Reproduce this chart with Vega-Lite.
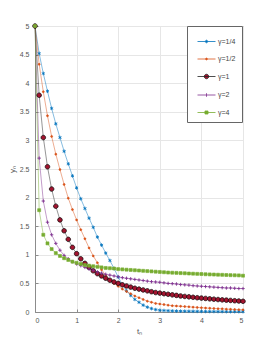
{
"$schema": "https://vega.github.io/schema/vega-lite/v6.json",
"width": 208, "height": 286,
"autosize": {"type": "none"},
"padding": {"left": 35, "top": 26, "right": 26, "bottom": 39},
"config": {"font": "Liberation Sans", "view": {"stroke": "#8c8c8c", "strokeWidth": 1}},
"datasets": {"d": [
{"t":0,"y":5,"g":"γ=1/4"},{"t":0.1,"y":4.52,"g":"γ=1/4"},{"t":0.2,"y":4.17,"g":"γ=1/4"},{"t":0.3,"y":3.86,"g":"γ=1/4"},{"t":0.4,"y":3.56,"g":"γ=1/4"},{"t":0.5,"y":3.29,"g":"γ=1/4"},{"t":0.6,"y":3.05,"g":"γ=1/4"},{"t":0.7,"y":2.81,"g":"γ=1/4"},{"t":0.8,"y":2.59,"g":"γ=1/4"},{"t":0.9,"y":2.38,"g":"γ=1/4"},{"t":1.0,"y":2.17,"g":"γ=1/4"},{"t":1.1,"y":1.98,"g":"γ=1/4"},{"t":1.2,"y":1.81,"g":"γ=1/4"},{"t":1.3,"y":1.64,"g":"γ=1/4"},{"t":1.4,"y":1.48,"g":"γ=1/4"},{"t":1.5,"y":1.31,"g":"γ=1/4"},{"t":1.6,"y":1.17,"g":"γ=1/4"},{"t":1.7,"y":1.03,"g":"γ=1/4"},{"t":1.8,"y":0.90,"g":"γ=1/4"},{"t":1.9,"y":0.76,"g":"γ=1/4"},{"t":2.0,"y":0.61,"g":"γ=1/4"},{"t":2.1,"y":0.48,"g":"γ=1/4"},{"t":2.2,"y":0.37,"g":"γ=1/4"},{"t":2.3,"y":0.29,"g":"γ=1/4"},{"t":2.4,"y":0.22,"g":"γ=1/4"},{"t":2.5,"y":0.17,"g":"γ=1/4"},{"t":2.6,"y":0.12,"g":"γ=1/4"},{"t":2.7,"y":0.085,"g":"γ=1/4"},{"t":2.8,"y":0.06,"g":"γ=1/4"},{"t":2.9,"y":0.042,"g":"γ=1/4"},{"t":3.0,"y":0.03,"g":"γ=1/4"},{"t":3.1,"y":0.026,"g":"γ=1/4"},{"t":3.2,"y":0.022,"g":"γ=1/4"},{"t":3.3,"y":0.019,"g":"γ=1/4"},{"t":3.4,"y":0.017,"g":"γ=1/4"},{"t":3.5,"y":0.015,"g":"γ=1/4"},{"t":3.6,"y":0.014,"g":"γ=1/4"},{"t":3.7,"y":0.013,"g":"γ=1/4"},{"t":3.8,"y":0.012,"g":"γ=1/4"},{"t":3.9,"y":0.011,"g":"γ=1/4"},{"t":4.0,"y":0.010,"g":"γ=1/4"},{"t":4.1,"y":0.0095,"g":"γ=1/4"},{"t":4.2,"y":0.009,"g":"γ=1/4"},{"t":4.3,"y":0.0085,"g":"γ=1/4"},{"t":4.4,"y":0.008,"g":"γ=1/4"},{"t":4.5,"y":0.0075,"g":"γ=1/4"},{"t":4.6,"y":0.007,"g":"γ=1/4"},{"t":4.7,"y":0.0068,"g":"γ=1/4"},{"t":4.8,"y":0.0065,"g":"γ=1/4"},{"t":4.9,"y":0.0062,"g":"γ=1/4"},{"t":5.0,"y":0.006,"g":"γ=1/4"},
{"t":0,"y":5,"g":"γ=1/2"},{"t":0.1,"y":4.33,"g":"γ=1/2"},{"t":0.2,"y":3.85,"g":"γ=1/2"},{"t":0.3,"y":3.43,"g":"γ=1/2"},{"t":0.4,"y":3.07,"g":"γ=1/2"},{"t":0.5,"y":2.76,"g":"γ=1/2"},{"t":0.6,"y":2.49,"g":"γ=1/2"},{"t":0.7,"y":2.23,"g":"γ=1/2"},{"t":0.8,"y":1.99,"g":"γ=1/2"},{"t":0.9,"y":1.79,"g":"γ=1/2"},{"t":1.0,"y":1.61,"g":"γ=1/2"},{"t":1.1,"y":1.44,"g":"γ=1/2"},{"t":1.2,"y":1.28,"g":"γ=1/2"},{"t":1.3,"y":1.12,"g":"γ=1/2"},{"t":1.4,"y":0.98,"g":"γ=1/2"},{"t":1.5,"y":0.86,"g":"γ=1/2"},{"t":1.6,"y":0.74,"g":"γ=1/2"},{"t":1.7,"y":0.64,"g":"γ=1/2"},{"t":1.8,"y":0.56,"g":"γ=1/2"},{"t":1.9,"y":0.50,"g":"γ=1/2"},{"t":2.0,"y":0.45,"g":"γ=1/2"},{"t":2.1,"y":0.40,"g":"γ=1/2"},{"t":2.2,"y":0.36,"g":"γ=1/2"},{"t":2.3,"y":0.32,"g":"γ=1/2"},{"t":2.4,"y":0.28,"g":"γ=1/2"},{"t":2.5,"y":0.25,"g":"γ=1/2"},{"t":2.6,"y":0.22,"g":"γ=1/2"},{"t":2.7,"y":0.19,"g":"γ=1/2"},{"t":2.8,"y":0.17,"g":"γ=1/2"},{"t":2.9,"y":0.15,"g":"γ=1/2"},{"t":3.0,"y":0.14,"g":"γ=1/2"},{"t":3.1,"y":0.13,"g":"γ=1/2"},{"t":3.2,"y":0.12,"g":"γ=1/2"},{"t":3.3,"y":0.11,"g":"γ=1/2"},{"t":3.4,"y":0.105,"g":"γ=1/2"},{"t":3.5,"y":0.10,"g":"γ=1/2"},{"t":3.6,"y":0.095,"g":"γ=1/2"},{"t":3.7,"y":0.09,"g":"γ=1/2"},{"t":3.8,"y":0.085,"g":"γ=1/2"},{"t":3.9,"y":0.08,"g":"γ=1/2"},{"t":4.0,"y":0.075,"g":"γ=1/2"},{"t":4.1,"y":0.07,"g":"γ=1/2"},{"t":4.2,"y":0.066,"g":"γ=1/2"},{"t":4.3,"y":0.062,"g":"γ=1/2"},{"t":4.4,"y":0.058,"g":"γ=1/2"},{"t":4.5,"y":0.055,"g":"γ=1/2"},{"t":4.6,"y":0.05,"g":"γ=1/2"},{"t":4.7,"y":0.047,"g":"γ=1/2"},{"t":4.8,"y":0.044,"g":"γ=1/2"},{"t":4.9,"y":0.041,"g":"γ=1/2"},{"t":5.0,"y":0.038,"g":"γ=1/2"},
{"t":0,"y":5,"g":"γ=1"},{"t":0.1,"y":3.79,"g":"γ=1"},{"t":0.2,"y":3.05,"g":"γ=1"},{"t":0.3,"y":2.54,"g":"γ=1"},{"t":0.4,"y":2.15,"g":"γ=1"},{"t":0.5,"y":1.85,"g":"γ=1"},{"t":0.6,"y":1.61,"g":"γ=1"},{"t":0.7,"y":1.42,"g":"γ=1"},{"t":0.8,"y":1.27,"g":"γ=1"},{"t":0.9,"y":1.13,"g":"γ=1"},{"t":1.0,"y":1.02,"g":"γ=1"},{"t":1.1,"y":0.93,"g":"γ=1"},{"t":1.2,"y":0.85,"g":"γ=1"},{"t":1.3,"y":0.78,"g":"γ=1"},{"t":1.4,"y":0.72,"g":"γ=1"},{"t":1.5,"y":0.67,"g":"γ=1"},{"t":1.6,"y":0.63,"g":"γ=1"},{"t":1.7,"y":0.59,"g":"γ=1"},{"t":1.8,"y":0.555,"g":"γ=1"},{"t":1.9,"y":0.525,"g":"γ=1"},{"t":2.0,"y":0.50,"g":"γ=1"},{"t":2.1,"y":0.475,"g":"γ=1"},{"t":2.2,"y":0.455,"g":"γ=1"},{"t":2.3,"y":0.435,"g":"γ=1"},{"t":2.4,"y":0.415,"g":"γ=1"},{"t":2.5,"y":0.40,"g":"γ=1"},{"t":2.6,"y":0.385,"g":"γ=1"},{"t":2.7,"y":0.37,"g":"γ=1"},{"t":2.8,"y":0.355,"g":"γ=1"},{"t":2.9,"y":0.34,"g":"γ=1"},{"t":3.0,"y":0.33,"g":"γ=1"},{"t":3.1,"y":0.32,"g":"γ=1"},{"t":3.2,"y":0.31,"g":"γ=1"},{"t":3.3,"y":0.30,"g":"γ=1"},{"t":3.4,"y":0.29,"g":"γ=1"},{"t":3.5,"y":0.28,"g":"γ=1"},{"t":3.6,"y":0.272,"g":"γ=1"},{"t":3.7,"y":0.265,"g":"γ=1"},{"t":3.8,"y":0.257,"g":"γ=1"},{"t":3.9,"y":0.25,"g":"γ=1"},{"t":4.0,"y":0.243,"g":"γ=1"},{"t":4.1,"y":0.237,"g":"γ=1"},{"t":4.2,"y":0.23,"g":"γ=1"},{"t":4.3,"y":0.224,"g":"γ=1"},{"t":4.4,"y":0.218,"g":"γ=1"},{"t":4.5,"y":0.212,"g":"γ=1"},{"t":4.6,"y":0.207,"g":"γ=1"},{"t":4.7,"y":0.202,"g":"γ=1"},{"t":4.8,"y":0.197,"g":"γ=1"},{"t":4.9,"y":0.192,"g":"γ=1"},{"t":5.0,"y":0.187,"g":"γ=1"},
{"t":0,"y":5,"g":"γ=2"},{"t":0.1,"y":2.69,"g":"γ=2"},{"t":0.2,"y":1.94,"g":"γ=2"},{"t":0.3,"y":1.57,"g":"γ=2"},{"t":0.4,"y":1.35,"g":"γ=2"},{"t":0.5,"y":1.20,"g":"γ=2"},{"t":0.6,"y":1.08,"g":"γ=2"},{"t":0.7,"y":0.99,"g":"γ=2"},{"t":0.8,"y":0.93,"g":"γ=2"},{"t":0.9,"y":0.88,"g":"γ=2"},{"t":1.0,"y":0.84,"g":"γ=2"},{"t":1.1,"y":0.81,"g":"γ=2"},{"t":1.2,"y":0.78,"g":"γ=2"},{"t":1.3,"y":0.75,"g":"γ=2"},{"t":1.4,"y":0.73,"g":"γ=2"},{"t":1.5,"y":0.70,"g":"γ=2"},{"t":1.6,"y":0.68,"g":"γ=2"},{"t":1.7,"y":0.66,"g":"γ=2"},{"t":1.8,"y":0.645,"g":"γ=2"},{"t":1.9,"y":0.63,"g":"γ=2"},{"t":2.0,"y":0.615,"g":"γ=2"},{"t":2.1,"y":0.60,"g":"γ=2"},{"t":2.2,"y":0.59,"g":"γ=2"},{"t":2.3,"y":0.58,"g":"γ=2"},{"t":2.4,"y":0.57,"g":"γ=2"},{"t":2.5,"y":0.56,"g":"γ=2"},{"t":2.6,"y":0.55,"g":"γ=2"},{"t":2.7,"y":0.54,"g":"γ=2"},{"t":2.8,"y":0.53,"g":"γ=2"},{"t":2.9,"y":0.525,"g":"γ=2"},{"t":3.0,"y":0.52,"g":"γ=2"},{"t":3.1,"y":0.51,"g":"γ=2"},{"t":3.2,"y":0.50,"g":"γ=2"},{"t":3.3,"y":0.495,"g":"γ=2"},{"t":3.4,"y":0.49,"g":"γ=2"},{"t":3.5,"y":0.48,"g":"γ=2"},{"t":3.6,"y":0.475,"g":"γ=2"},{"t":3.7,"y":0.47,"g":"γ=2"},{"t":3.8,"y":0.46,"g":"γ=2"},{"t":3.9,"y":0.455,"g":"γ=2"},{"t":4.0,"y":0.45,"g":"γ=2"},{"t":4.1,"y":0.445,"g":"γ=2"},{"t":4.2,"y":0.44,"g":"γ=2"},{"t":4.3,"y":0.435,"g":"γ=2"},{"t":4.4,"y":0.43,"g":"γ=2"},{"t":4.5,"y":0.425,"g":"γ=2"},{"t":4.6,"y":0.42,"g":"γ=2"},{"t":4.7,"y":0.42,"g":"γ=2"},{"t":4.8,"y":0.415,"g":"γ=2"},{"t":4.9,"y":0.41,"g":"γ=2"},{"t":5.0,"y":0.41,"g":"γ=2"},
{"t":0,"y":5,"g":"γ=4"},{"t":0.1,"y":1.78,"g":"γ=4"},{"t":0.2,"y":1.35,"g":"γ=4"},{"t":0.3,"y":1.20,"g":"γ=4"},{"t":0.4,"y":1.10,"g":"γ=4"},{"t":0.5,"y":1.03,"g":"γ=4"},{"t":0.6,"y":0.98,"g":"γ=4"},{"t":0.7,"y":0.94,"g":"γ=4"},{"t":0.8,"y":0.91,"g":"γ=4"},{"t":0.9,"y":0.88,"g":"γ=4"},{"t":1.0,"y":0.86,"g":"γ=4"},{"t":1.1,"y":0.84,"g":"γ=4"},{"t":1.2,"y":0.82,"g":"γ=4"},{"t":1.3,"y":0.81,"g":"γ=4"},{"t":1.4,"y":0.80,"g":"γ=4"},{"t":1.5,"y":0.79,"g":"γ=4"},{"t":1.6,"y":0.78,"g":"γ=4"},{"t":1.7,"y":0.77,"g":"γ=4"},{"t":1.8,"y":0.765,"g":"γ=4"},{"t":1.9,"y":0.76,"g":"γ=4"},{"t":2.0,"y":0.75,"g":"γ=4"},{"t":2.1,"y":0.745,"g":"γ=4"},{"t":2.2,"y":0.74,"g":"γ=4"},{"t":2.3,"y":0.735,"g":"γ=4"},{"t":2.4,"y":0.73,"g":"γ=4"},{"t":2.5,"y":0.725,"g":"γ=4"},{"t":2.6,"y":0.72,"g":"γ=4"},{"t":2.7,"y":0.715,"g":"γ=4"},{"t":2.8,"y":0.71,"g":"γ=4"},{"t":2.9,"y":0.705,"g":"γ=4"},{"t":3.0,"y":0.70,"g":"γ=4"},{"t":3.1,"y":0.695,"g":"γ=4"},{"t":3.2,"y":0.69,"g":"γ=4"},{"t":3.3,"y":0.687,"g":"γ=4"},{"t":3.4,"y":0.684,"g":"γ=4"},{"t":3.5,"y":0.68,"g":"γ=4"},{"t":3.6,"y":0.677,"g":"γ=4"},{"t":3.7,"y":0.673,"g":"γ=4"},{"t":3.8,"y":0.67,"g":"γ=4"},{"t":3.9,"y":0.667,"g":"γ=4"},{"t":4.0,"y":0.664,"g":"γ=4"},{"t":4.1,"y":0.66,"g":"γ=4"},{"t":4.2,"y":0.657,"g":"γ=4"},{"t":4.3,"y":0.655,"g":"γ=4"},{"t":4.4,"y":0.652,"g":"γ=4"},{"t":4.5,"y":0.65,"g":"γ=4"},{"t":4.6,"y":0.647,"g":"γ=4"},{"t":4.7,"y":0.644,"g":"γ=4"},{"t":4.8,"y":0.642,"g":"γ=4"},{"t":4.9,"y":0.64,"g":"γ=4"},{"t":5.0,"y":0.635,"g":"γ=4"}
]},
"data": {"name": "d"},
"encoding": {
  "x": {"field": "t", "type": "quantitative", "scale": {"domain": [0, 5], "nice": false},
    "axis": {"values": [0,1,2,3,4,5], "format": "~g", "title": "tₙ", "grid": true, "gridColor": "#e6e6e6", "domainColor": "#8c8c8c", "tickColor": "#8c8c8c", "tickSize": -3, "labelPadding": 7, "labelFontSize": 7, "labelColor": "#555555", "titleFontSize": 8, "titleFontWeight": "normal", "titleColor": "#555555", "titlePadding": 4}},
  "y": {"field": "y", "type": "quantitative", "scale": {"domain": [0, 5], "nice": false},
    "axis": {"values": [0,0.5,1,1.5,2,2.5,3,3.5,4,4.5,5], "format": "~g", "title": "yₙ", "grid": true, "gridColor": "#e6e6e6", "domainColor": "#8c8c8c", "tickColor": "#8c8c8c", "tickSize": -3, "labelPadding": 9, "labelFontSize": 7, "labelColor": "#555555", "titleFontSize": 8, "titleFontWeight": "normal", "titleColor": "#555555", "titlePadding": 3}}
},
"layer": [
  {"mark": {"type": "line", "strokeWidth": 0.6, "strokeOpacity": 0.8},
   "encoding": {
     "stroke": {"field": "g", "type": "nominal",
       "scale": {"domain": ["γ=1/4","γ=1/2","γ=1","γ=2","γ=4"], "range": ["#0072BD","#D95319","#222222","#7E2F8E","#77AC30"]},
       "legend": {"title": null, "orient": "none", "legendX": 152, "legendY": 0, "symbolSize": 324, "symbolStrokeWidth": 0.8, "labelFontSize": 7, "labelColor": "#444444", "labelOffset": 2, "rowPadding": 4.5, "padding": 6, "symbolOffset": 4, "strokeColor": "#666666", "fillColor": "white",
         "encode": {"symbols": {"update": {
           "shape": {"signal": "datum.value === 'γ=1/4' ? 'M-1,0H1M0,-0.2V0.2M-0.17,-0.1L0.17,0.1M-0.17,0.1L0.17,-0.1' : datum.value === 'γ=1/2' ? 'M-1,0H1M-0.1,0A0.1,0.1 0 1,0 0.1,0A0.1,0.1 0 1,0 -0.1,0Z' : datum.value === 'γ=1' ? 'M-1,0H1M-0.25,0A0.25,0.25 0 1,0 0.25,0A0.25,0.25 0 1,0 -0.25,0Z' : datum.value === 'γ=2' ? 'M-1,0H1M0,-0.2V0.2' : 'M-1,0H1M-0.17,-0.17H0.17V0.17H-0.17Z'"},
           "fill": {"signal": "datum.value === 'γ=1/2' ? '#D95319' : datum.value === 'γ=1' ? '#A2142F' : datum.value === 'γ=4' ? '#77AC30' : 'transparent'"}
         }}}}},
     "detail": {"field": "g"}
   }},
  {"transform": [{"filter": "datum.g === 'γ=1/4'"}],
   "mark": {"type": "point", "filled": true, "size": 25, "strokeWidth": 0.8, "opacity": 1, "stroke": "#0072BD", "fill": "transparent", "shape": "M0,-0.72V0.72M-0.62,-0.36L0.62,0.36M-0.62,0.36L0.62,-0.36"}},
  {"transform": [{"filter": "datum.g === 'γ=1/2'"}],
   "mark": {"type": "point", "filled": true, "size": 25, "strokeWidth": 0.6, "opacity": 1, "stroke": "#D95319", "fill": "#D95319", "shape": "M-0.4,0A0.4,0.4 0 1,0 0.4,0A0.4,0.4 0 1,0 -0.4,0Z"}},
  {"transform": [{"filter": "datum.g === 'γ=1'"}],
   "mark": {"type": "point", "filled": true, "size": 25, "strokeWidth": 0.7, "opacity": 1, "stroke": "#000000", "fill": "#A2142F", "shape": "M-0.92,0A0.92,0.92 0 1,0 0.92,0A0.92,0.92 0 1,0 -0.92,0Z"}},
  {"transform": [{"filter": "datum.g === 'γ=2'"}],
   "mark": {"type": "point", "filled": true, "size": 25, "strokeWidth": 0.9, "opacity": 1, "stroke": "#7E2F8E", "fill": "transparent", "shape": "M-0.68,0H0.68M0,-0.68V0.68"}},
  {"transform": [{"filter": "datum.g === 'γ=4'"}],
   "mark": {"type": "point", "filled": true, "size": 25, "strokeWidth": 0.6, "opacity": 1, "stroke": "#77AC30", "fill": "#77AC30", "shape": "M-0.6,-0.6H0.6V0.6H-0.6Z"}}
]
}
